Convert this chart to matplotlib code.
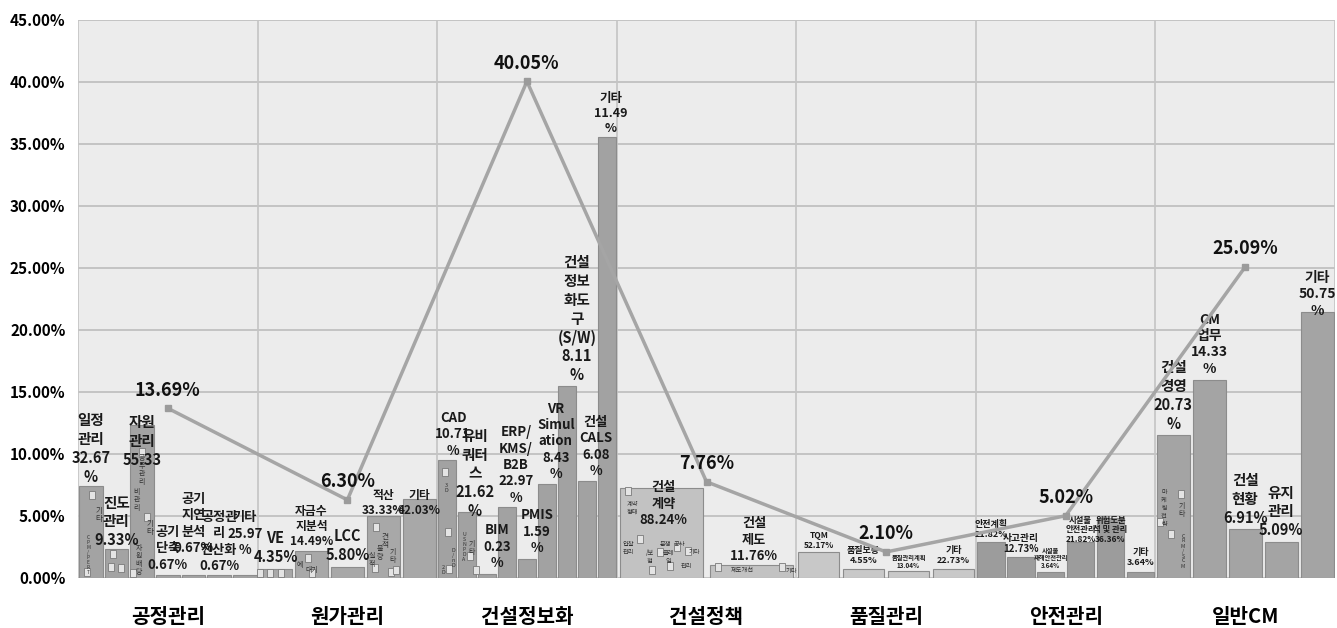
import numpy as np
import matplotlib
matplotlib.use("Agg")
import matplotlib.pyplot as plt

plt.rcParams['font.family'] = ['Noto Sans CJK KR', 'DejaVu Sans']

# ---- data -------------------------------------------------------------
categories = ['공정관리', '원가관리', '건설정보화', '건설정책', '품질관리', '안전관리', '일반CM']
category_totals = [13.69, 6.30, 40.05, 7.76, 2.10, 5.02, 25.09]

sub_labels = [
    ['일정\n관리\n32.67\n%', '진도\n관리\n9.33%', '자원\n관리\n55.33', '공기\n단축\n0.67%',
     '공기\n지연\n분석\n0.67%', '공정관\n리\n전산화\n0.67%', '기타\n25.97\n%'],
    ['VE\n4.35%', '자금수\n지분석\n14.49%', 'LCC\n5.80%', '적산\n33.33%', '기타\n42.03%'],
    ['CAD\n10.71\n%', '유비\n쿼터\n스\n21.62\n%', 'BIM\n0.23\n%', 'ERP/\nKMS/\nB2B\n22.97\n%',
     'PMIS\n1.59\n%', 'VR\nSimul\nation\n8.43\n%', '건설\n정보\n화도\n구\n(S/W)\n8.11\n%',
     '건설\nCALS\n6.08\n%', '기타\n11.49\n%'],
    ['건설\n계약\n88.24%', '건설\n제도\n11.76%'],
    ['TQM\n52.17%', '품질보증\n4.55%', '품질관리계획\n13.04%', '기타\n22.73%'],
    ['안전계획\n21.82%', '사고관리\n12.73%', '시설물\n재해안전관리\n3.64%', '시설물\n안전관리\n21.82%',
     '위험도분\n석 및 관리\n36.36%', '기타\n3.64%'],
    ['건설\n경영\n20.73\n%', 'CM\n업무\n14.33\n%', '건설\n현황\n6.91%', '유지\n관리\n5.09%', '기타\n50.75\n%'],
]

bar_heights = [
    [7.4, 2.3, 12.3, 0.25, 0.25, 0.25, 0.25],
    [0.7, 2.2, 0.9, 5.0, 6.4],
    [9.5, 5.3, 0.3, 5.7, 1.5, 7.6, 15.5, 7.8, 35.6],
    [7.26, 1.05],
    [2.1, 0.7, 0.6, 0.7],
    [2.9, 1.7, 0.5, 2.9, 4.8, 0.5],
    [11.5, 16.0, 3.95, 2.9, 21.45],
]

# ---- label layout (bottom edge in axis units, x shift in bar widths, size) ----
label_bottom = [
    [7.5, 2.4, 8.9, 0.5, 1.85, 0.4, 1.7],
    [1.05, 2.4, 1.2, 4.9, 4.9],
    [9.7, 4.75, 0.65, 5.9, 1.85, 7.8, 15.7, 8.05, 35.7],
    [4.1, 1.2],
    [2.25, 1.05, 0.75, 1.05],
    [3.15, 1.95, 0.75, 2.75, 2.75, 0.9],
    [11.8, 16.3, 4.2, 3.2, 21.0],
]
label_shift = [
    [0, 0, 0, 0, 0, 0, 0],
    [0, 0, 0, 0, 0],
    [0.3, 0.4, 0.5, 0.45, 0.5, 0.45, 0.5, 0.45, 0.2],
    [0.02, 0.03],
    [0, 0, 0, 0],
    [0, 0, 0, 0, 0, 0],
    [0, 0, 0, 0, 0],
]
label_size = [
    [10.5, 10.5, 10.5, 9.5, 9.5, 9.5, 9.5],
    [10.5, 8.5, 10.5, 8.5, 8.5],
    [9.5, 10.5, 9.5, 9.5, 9.5, 9.5, 10.5, 9.5, 9],
    [9.5, 9.5],
    [6, 6.5, 4.5, 6.5],
    [6.5, 7, 4.5, 6, 6, 6.5],
    [10.5, 10, 10.5, 10.5, 10],
]
bar_colors = ['#a3a3a3', '#a8a8a8', '#a2a2a2', '#c2c2c2', '#c8c8c8', '#9c9c9c', '#a4a4a4']

fig = plt.figure(figsize=(13.37, 6.28), dpi=100)
ax = fig.add_axes([78 / 1337, 50 / 628, (1335 - 78) / 1337, 558 / 628])
ax.set_facecolor('#ececec')
ax.set_xlim(0, 7)
ax.set_ylim(0, 45)

# grid: horizontal every 5 %, vertical at category borders
for v in np.arange(0, 46, 5):
    ax.axhline(v, color='#bdbdbd', lw=1.2, zorder=0.5)
for k in range(8):
    ax.axvline(k, color='#c4c4c4', lw=1.2, zorder=0.5)

for k, heights in enumerate(bar_heights):
    n = len(heights)
    slot = 1.0 / n
    xs = k + (np.arange(n) + 0.5) * slot
    ax.bar(xs, heights, width=slot * 0.92, color=bar_colors[k], edgecolor='#8c8c8c',
           linewidth=0.8, zorder=2)
    for i, x in enumerate(xs):
        fs = label_size[k][i]
        ls = 1.22 if fs >= 8 else 1.1
        ax.text(x + label_shift[k][i] * slot, label_bottom[k][i], sub_labels[k][i],
                ha='center', va='bottom', fontsize=fs, fontweight='bold',
                color='#1a1a1a', linespacing=ls, zorder=4)

# small icon decorations inside bars (pixel positions on the canvas)
def px_to_data(px, py):
    return (px - 78) / 179.57, (578 - py) / 12.4

icons = [(92, 495), (87, 572), (113, 554), (111, 567), (121, 568), (133, 573), (142, 452),
         (147, 517), (308, 558), (312, 573), (376, 527), (375, 568), (391, 572), (396, 570),
         (445, 472), (448, 532), (449, 569), (470, 556), (476, 570), (628, 491), (640, 539),
         (660, 552), (670, 566), (677, 547), (688, 551), (652, 570), (718, 567), (782, 567),
         (1181, 494), (1160, 522), (1171, 534), (260, 573), (270, 573), (281, 573)]
for px, py in icons:
    x, y = px_to_data(px, py)
    ax.add_patch(plt.Rectangle((x - 0.019, y - 0.35), 0.038, 0.7, facecolor='#e4e4e4',
                               edgecolor='#7a7a7a', lw=0.6, zorder=3))

tiny_texts = [(99, 515, '기\n타', 5.5), (88, 555, 'C\nP\nM\n/\nP\nE\nR\nT', 3.5),
              (142, 470, '공\n무\n관\n리', 5), (137, 500, '비\n관\n리', 5), (150, 528, '기\n타', 5.5),
              (139, 560, '자\n원\n배\n당', 5), (385, 545, '견\n적\n', 5.5), (380, 553, '물\n량', 5),
              (372, 560, '실\n적', 5), (393, 556, '기\n타', 5), (300, 565, '예', 5), (312, 570, '대기', 5),
              (446, 488, '3\nD', 4), (453, 558, 'D\n/\nn\nD', 4), (443, 570, '2\nD', 4),
              (464, 547, 'U\nS\nN\nP\nD\nA', 3.8), (472, 548, '기\n타', 5),
              (632, 508, '계약\n형태', 4.5), (628, 548, '입찰\n관리', 4.5), (650, 557, '/보\n험', 4.5),
              (665, 544, '분쟁', 4.5), (679, 544, '공사', 4.5), (694, 552, '기타', 4.5),
              (668, 557, '클레\n임', 4.5), (686, 566, '관리', 4.5), (742, 570, '제도개선', 4.5),
              (791, 571, '기타', 4.5), (1164, 508, '마\n케\n팅\n전\n략', 4.5), (1182, 510, '기\n타', 5),
              (1183, 551, 'C\nR\nM\n/\nS\nC\nM', 3.8)]
for px, py, t, fs in tiny_texts:
    x, y = px_to_data(px, py)
    ax.text(x, y, t, ha='center', va='center', fontsize=fs, color='#333333',
            linespacing=1.0, zorder=4)

# category total line
centers = np.arange(len(categories)) + 0.5
ax.plot(centers, category_totals, color='#a5a5a5', lw=2.5, marker='s', ms=5,
        mfc='#9b9b9b', mec='#9b9b9b', zorder=5)
for x, v in zip(centers, category_totals):
    ax.annotate(f'{v:.2f}%', (x, v), xytext=(0, 13), textcoords='offset points',
                ha='center', va='center', fontsize=13, fontweight='bold', color='#111111',
                zorder=6)

ax.set_yticks(np.arange(0, 46, 5))
ax.set_yticklabels([f'{v:.2f}%' for v in np.arange(0, 46, 5)], fontsize=11, fontweight='bold')
ax.set_xticks(centers)
ax.set_xticklabels(categories, fontsize=14.5, fontweight='bold')
ax.tick_params(axis='y', length=0, pad=9)
ax.tick_params(axis='x', length=0, pad=20)
for s in ax.spines.values():
    s.set_visible(False)

fig.savefig('out.png', dpi=100, facecolor='white')
